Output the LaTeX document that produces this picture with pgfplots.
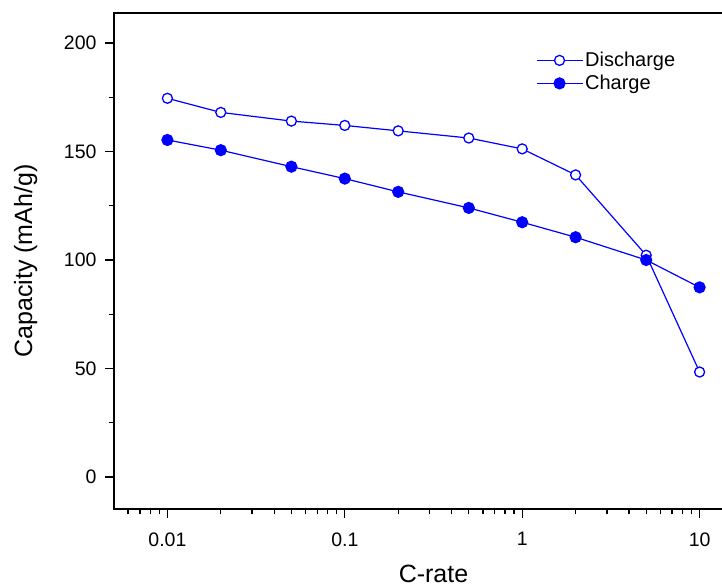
\documentclass[border=0pt]{standalone}
\usepackage{pgfplots}
\pgfplotsset{compat=1.18}
\usepackage{fontspec}
\setmainfont{Liberation Sans}
\begin{document}
\begin{tikzpicture}
\begin{axis}[
  scale only axis,
  width=639pt, height=496pt,
  xmode=log,
  xmin=0.005, xmax=20,
  ymin=-14.7, ymax=213.8,
  xtick={0.01,0.1,1,10},
  xticklabels={0.01,0.1,1,10},
  minor xtick={0.006,0.007,0.008,0.009,0.02,0.03,0.04,0.05,0.06,0.07,0.08,0.09,0.2,0.3,0.4,0.5,0.6,0.7,0.8,0.9,2,3,4,5,6,7,8,9},
  ytick={0,50,100,150,200},
  minor ytick={-25,25,75,125,175},
  tick align=outside,
  xtick pos=left, ytick pos=left,
  major tick length=9pt,
  minor tick length=5.5pt,
  every tick/.style={black, line width=1.3pt},
  axis line style={line width=1.5pt},
  /pgf/number format/assume math mode=true,
  tick label style={font=\fontsize{19.5}{22}\selectfont},
  xticklabel style={yshift=-11pt},
  yticklabel style={xshift=-5pt},
  label style={font=\fontsize{25}{28}\selectfont},
  xlabel={C-rate},
  ylabel={Capacity (mAh/g)},
  xlabel style={at={(rel axis cs:0.5,-0.1472)}, anchor=base},
  ylabel style={at={(rel axis cs:-0.1283,0.5)}, anchor=base},
  legend style={draw=none, fill=none, at={(rel axis cs:0.66,0.925)}, anchor=north west,
    font=\fontsize{20}{22}\selectfont, inner sep=0pt, row sep=3pt},
  legend cell align=left,
  legend image code/.code={\draw[mark repeat=2,mark phase=2,#1] plot coordinates {(0pt,0pt)(23pt,0pt)(46pt,0pt)};},
]
\addplot[blue, line width=1.2pt, mark=*, mark size=5pt, mark options={fill=white, line width=1.3pt}]
 coordinates {(0.01,174.5)(0.02,168)(0.05,164)(0.1,162)(0.2,159.5)(0.5,156.2)(1,151.2)(2,139.2)(5,102.2)(10,48.4)};
\addlegendentry{Discharge}
\addplot[blue, line width=1.2pt, mark=*, mark size=5.5pt, mark options={fill=blue}]
 coordinates {(0.01,155.3)(0.02,150.6)(0.05,143)(0.1,137.5)(0.2,131.4)(0.5,124)(1,117.4)(2,110.5)(5,100)(10,87.4)};
\addlegendentry{Charge}
\coordinate (SW) at (rel axis cs:0,0);
\coordinate (NW) at (rel axis cs:0,1);
\end{axis}
\pgfresetboundingbox
\useasboundingbox ([xshift=-114pt,yshift=-78pt]SW) rectangle ([xshift=608pt,yshift=13pt]NW);
\end{tikzpicture}
\end{document}
